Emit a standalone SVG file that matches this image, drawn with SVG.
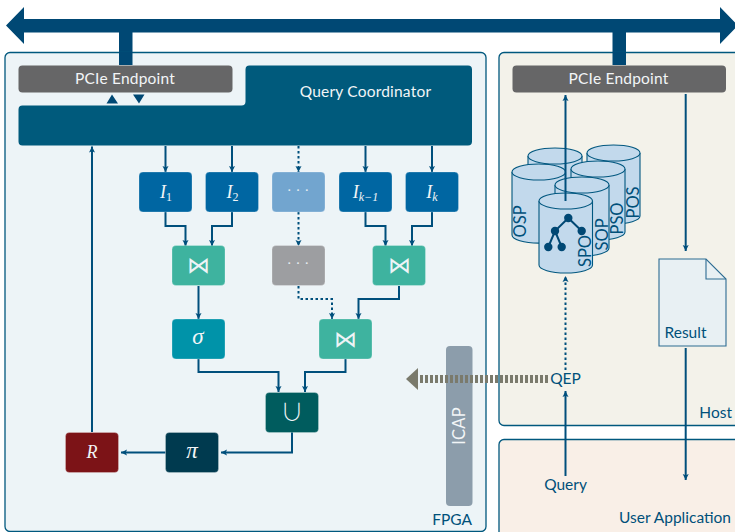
<svg xmlns="http://www.w3.org/2000/svg" width="735" height="532" viewBox="0 0 735 532">
<style>
text{font-family:"Lato","Open Sans",sans-serif;}
.lab{fill:#00507a;font-size:15.5px}
.w{fill:#f2f5f7;font-size:15.5px;text-anchor:middle;letter-spacing:.2px}
.m{fill:#f2f5f7;font-family:"Liberation Serif",serif;font-style:italic;font-size:18px;text-anchor:middle}
.sub{font-size:12px}
.dots{fill:#e8eef2;font-family:"Liberation Serif",serif;font-size:15px;text-anchor:middle}
.op{fill:#eef4f6;font-family:"Noto Sans CJK SC","Liberation Serif",serif;font-weight:300;font-size:23px;text-anchor:middle}
.n{stroke:#ffffff;stroke-opacity:.25;stroke-width:1}
.c{fill:none;stroke:#004f7c;stroke-width:2}
.d{stroke-dasharray:2.5 2.5}
.cyl{fill:#c2d9ec;stroke:#00577f;stroke-width:1.1}
.cl{fill:#00507a;font-size:16.5px}
.bar{fill:#004874}
</style>
<defs>
<marker id="a" markerUnits="userSpaceOnUse" markerWidth="8" markerHeight="8" refX="6" refY="4" orient="auto"><path d="M0 1 L6 4 L0 7 L1.200 4Z" fill="#004f7c"/></marker>
</defs>
<g id="bus">
<path class="bar" d="M6 25.500L24 7V19H720V7L738 25.500L720 44V32.500H24V44Z"/>
<rect class="bar" x="119" y="32" width="13.500" height="33"/>
<rect class="bar" x="612.500" y="32" width="13.500" height="33"/>
</g>
<g id="fpga"><rect x="5" y="52.500" width="481" height="479" rx="5" fill="#edf4f7" stroke="#00587e" stroke-width="1.300"/><text class="lab" x="472" y="525" text-anchor="end">FPGA</text></g>
<g id="host"><rect x="499" y="52.500" width="250" height="373" rx="5" fill="#f3f2ea" stroke="#00587e" stroke-width="1.300"/><text class="lab" x="732" y="418" text-anchor="end">Host</text></g>
<g id="app"><rect x="499" y="439.500" width="250" height="110" rx="5" fill="#f9efe7" stroke="#00587e" stroke-width="1.300"/><text class="lab" x="731" y="523" text-anchor="end">User Application</text></g>
<rect class="bar" x="119" y="52" width="13.500" height="13"/>
<rect class="bar" x="612.500" y="52" width="13.500" height="13"/>
<g id="pcie1"><rect x="18.500" y="65.500" width="214" height="27" rx="4" fill="#666667"/><text class="w" x="125" y="83.500">PCIe Endpoint</text></g>
<g id="pcie2"><rect x="512.500" y="65.500" width="213.500" height="27" rx="4" fill="#666667"/><text class="w" x="618.500" y="83.500">PCIe Endpoint</text></g>
<g id="coordinator"><path d="M249 65.500H468a4 4 0 0 1 4 4V141.500a4 4 0 0 1-4 4H22.500a4 4 0 0 1-4-4V109.500a4 4 0 0 1 4-4H241.500a4 4 0 0 0 4-4V69.500a4 4 0 0 1 4-4Z" fill="#005a7c"/><text class="w" x="365.500" y="96.500">Query Coordinator</text></g>
<g id="connectors">
<path class="bar" d="M106.500 103.500L112 94.500L118 103.500ZM133 94.500H144.500L139 103.500Z"/>
<path class="c" marker-end="url(#a)" d="M92 432V146.500"/>
<path class="c" marker-end="url(#a)" d="M165.500 146V172"/>
<path class="c" marker-end="url(#a)" d="M232 146V172"/>
<path class="c d" marker-end="url(#a)" d="M298.500 146V172"/>
<path class="c" marker-end="url(#a)" d="M365.500 146V172"/>
<path class="c" marker-end="url(#a)" d="M432 146V172"/>
<path class="c" marker-end="url(#a)" d="M165.500 212V226H185.500V246"/>
<path class="c" marker-end="url(#a)" d="M232 212V226H212V246"/>
<path class="c d" marker-end="url(#a)" d="M298.500 212V246"/>
<path class="c" marker-end="url(#a)" d="M365.500 212V226H385.500V246"/>
<path class="c" marker-end="url(#a)" d="M432 212V226H412V246"/>
<path class="c" marker-end="url(#a)" d="M198.500 286V319"/>
<path class="c d" marker-end="url(#a)" d="M298.500 286V299H332V319"/>
<path class="c" marker-end="url(#a)" d="M399 286V299H358.500V319"/>
<path class="c" marker-end="url(#a)" d="M198.500 359V372H278.500V392"/>
<path class="c" marker-end="url(#a)" d="M345.500 359V372H305V392"/>
<path class="c" marker-end="url(#a)" d="M292 432V452.500H221"/>
<path class="c" marker-end="url(#a)" d="M165.500 452.500H121"/>
</g>
<g id="i1"><rect class="n" x="139" y="172" width="53" height="40" rx="4" fill="#0066a2"/><text class="m" x="166" y="198">I<tspan class="sub" dy="3" font-style="normal">1</tspan></text></g>
<g id="i2"><rect class="n" x="205.500" y="172" width="53" height="40" rx="4" fill="#0066a2"/><text class="m" x="232.500" y="198">I<tspan class="sub" dy="3" font-style="normal">2</tspan></text></g>
<g id="idots"><rect class="n" x="272" y="172" width="53" height="40" rx="4" fill="#72a5cf"/><text class="dots" x="298" y="195">· · ·</text></g>
<g id="ik1"><rect class="n" x="339" y="172" width="53" height="40" rx="4" fill="#0066a2"/><text class="m" x="365.500" y="198">I<tspan class="sub" dy="3">k−1</tspan></text></g>
<g id="ik"><rect class="n" x="405.500" y="172" width="53" height="40" rx="4" fill="#0066a2"/><text class="m" x="432" y="198">I<tspan class="sub" dy="3">k</tspan></text></g>
<g id="j1"><rect class="n" x="172" y="245.500" width="53" height="40" rx="4" fill="#3eb39f"/><text class="op" x="198.500" y="273">⋈</text></g>
<g id="jdots"><rect class="n" x="272" y="245.500" width="53" height="40" rx="4" fill="#9d9ea1"/><text class="dots" x="298" y="268">· · ·</text></g>
<g id="j2"><rect class="n" x="372.500" y="245.500" width="53" height="40" rx="4" fill="#3eb39f"/><text class="op" x="399" y="273">⋈</text></g>
<g id="sigma"><rect class="n" x="172" y="319" width="53" height="40" rx="4" fill="#0093a9"/><text class="m" x="198" y="344" style="font-size:23px">σ</text></g>
<g id="j3"><rect class="n" x="319" y="319" width="53" height="40" rx="4" fill="#3eb39f"/><text class="op" x="345.500" y="346.500">⋈</text></g>
<g id="union"><rect class="n" x="265.500" y="392.500" width="53" height="40" rx="4" fill="#005c5e"/><text class="op" x="292" y="420">∪</text></g>
<g id="pi"><rect class="n" x="165.500" y="432.500" width="53" height="40" rx="4" fill="#003a4f"/><text class="m" x="192" y="458" style="font-size:23px">π</text></g>
<g id="r"><rect class="n" x="65.500" y="432.500" width="53" height="40" rx="4" fill="#7c1317"/><text class="m" x="92" y="458">R</text></g>
<g id="icap"><rect x="446" y="346" width="26.500" height="160" rx="4" fill="#8c9dab"/><text class="w" transform="translate(465 426) rotate(-90)" style="font-size:16.500px">ICAP</text></g>
<g id="cylinders">
<g id="cyl0"><path class="cyl" d="M528 156V230A27 8 0 0 0 582 230V156"/><ellipse class="cyl" cx="555" cy="156" rx="27" ry="8"/></g>
<g id="pos"><path class="cyl" d="M587 153V216A26.500 8 0 0 0 640 216V153"/><ellipse class="cyl" cx="613.500" cy="153" rx="26.500" ry="8"/><text class="cl" transform="translate(639 218.500) rotate(-90)">POS</text></g>
<g id="pso"><path class="cyl" d="M571 169V232A27 8 0 0 0 625 232V169"/><ellipse class="cyl" cx="598" cy="169" rx="27" ry="8"/><text class="cl" transform="translate(623 234.500) rotate(-90)">PSO</text></g>
<g id="osp"><path class="cyl" d="M512 172V235A26.500 8 0 0 0 565.500 235V172"/><ellipse class="cyl" cx="538.750" cy="172" rx="26.750" ry="8"/><text class="cl" transform="translate(526 237.500) rotate(-90)">OSP</text></g>
<g id="sop"><path class="cyl" d="M555 185V248A27 8 0 0 0 609 248V185"/><ellipse class="cyl" cx="582" cy="185" rx="27" ry="8"/><text class="cl" transform="translate(608 250.500) rotate(-90)">SOP</text></g>
<g id="spo"><path class="cyl" d="M539 201V265A26.750 8 0 0 0 592.500 265V201"/><ellipse class="cyl" cx="565.750" cy="201" rx="26.750" ry="8"/><text class="cl" transform="translate(590.500 267) rotate(-90)">SPO</text>
<path d="M568.300 218L555 231L548.300 247M555 231L561.700 247M568.300 218L581.700 231" fill="none" stroke="#004874" stroke-width="2"/>
<g fill="#004874"><circle cx="568.300" cy="218" r="4.200"/><circle cx="555" cy="231" r="4.200"/><circle cx="581.700" cy="231" r="4.200"/><circle cx="548.300" cy="247" r="4.200"/><circle cx="561.700" cy="247" r="4.200"/></g></g>
</g>
<g id="doc"><path d="M659 259H706L726 279V346H659Z" fill="#e8f0f3" stroke="#2d6c92" stroke-width="1.100"/><path d="M706 259V279H726" fill="none" stroke="#2d6c92" stroke-width="1.100"/><text class="lab" x="685.500" y="338" text-anchor="middle">Result</text></g>
<g id="connectors2">
<path class="c" marker-end="url(#a)" d="M565.500 201V95"/>
<path class="c d" marker-end="url(#a)" d="M565.500 370V276"/>
<path class="c" marker-end="url(#a)" d="M565.500 476V391"/>
<path class="c" marker-end="url(#a)" d="M685.700 94V251"/>
<path class="c" marker-end="url(#a)" d="M685.700 348V480"/>
<path d="M548 379H418" fill="none" stroke="#7a7a6c" stroke-width="8" stroke-dasharray="3 2"/>
<path d="M406 379L418 368V390Z" fill="#7a7a6c"/>
</g>
<text class="lab" x="565.500" y="384" text-anchor="middle">QEP</text>
<text class="lab" x="565.500" y="490" text-anchor="middle">Query</text>
</svg>
